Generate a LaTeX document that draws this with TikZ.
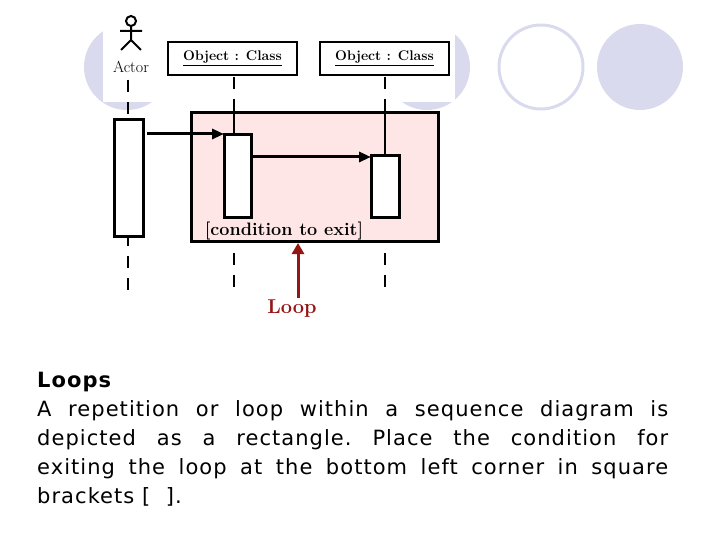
\documentclass[tikz,border=0pt]{standalone}
\usepackage{fontspec}
\newfontfamily\bodyfont[LetterSpace=5]{DejaVu Sans}
\usetikzlibrary{arrows.meta}
\definecolor{lav}{RGB}{218,218,238}
\definecolor{loopfill}{RGB}{255,230,230}
\definecolor{loopred}{RGB}{150,20,20}
\tikzset{every path/.style={black},
  life/.style={line width=1.6pt,dash pattern=on 12pt off 10pt},
  act/.style={draw,line width=3pt,fill=white},
  obj/.style={draw,line width=2.5pt,fill=white,minimum width=129pt,minimum height=33pt,font=\fontsize{14}{15}\selectfont\bfseries},
  msg/.style={line width=3pt,-{Triangle[length=12pt,width=10pt]}}}
\begin{document}
\begin{tikzpicture}[x=1pt,y=-1pt]
  \useasboundingbox (0,0) rectangle (720,540);
  % background circles
  \fill[lav] (127,67) circle (43);
  \fill[lav] (427,67) circle (43);
  \draw[lav,line width=3pt] (541,67) circle (42);
  \fill[lav] (640,67) circle (43);
  \fill[white] (103,0) rectangle (455,102);
  % actor
  \draw[line width=2pt] (131,21) circle (5);
  \draw[line width=2pt] (131,26) -- (131,40) (120,31) -- (142,31) (121,50) -- (131,40) -- (141,50);
  \node[font=\fontsize{16}{17}\selectfont] (actor) at (131,67) {Actor};
  \node[obj] (o1) at (232.5,58.5) {\underline{Object : Class}};
  \node[obj] (o2) at (384.5,58.5) {\underline{Object : Class}};
  % lifelines
  \draw[life] (128,80) -- (128,290);
  \draw[life] (234,77) -- (234,290);
  \draw[life] (385,77) -- (385,290);
  % loop frame
  \draw[line width=3pt,fill=loopfill] (191,113) rectangle (438,241);
  \draw[line width=1.6pt] (234,113) -- (234,135) (385,113) -- (385,156);
  \node[font=\fontsize{18}{19}\selectfont\bfseries] (cond) at (284,231) {[condition to exit]};
  % activations
  \draw[act] (114,120) rectangle (143,236);
  \draw[act] (224,135) rectangle (251,218);
  \draw[act] (371,156) rectangle (399,218);
  \draw[msg] (147,134) -- (224,134);
  \draw[msg] (251,157) -- (371,157);
  % loop label
  \node[font=\fontsize{20}{21}\selectfont\bfseries,text=loopred] (loop) at (292,309) {Loop};
  \draw[loopred,line width=3pt,-{Triangle[length=11pt,width=12pt]}] (298,298) -- (298,243);
  % text
  \node[anchor=north west,font=\bodyfont\frenchspacing\fontsize{21}{29}\selectfont,text width=631pt,align=justify,inner sep=0pt] (body) at (37,372)
    {\textbf{Loops}\\A repetition or loop within a sequence diagram is\linebreak depicted as a rectangle. Place the condition for\linebreak exiting the loop at the bottom left corner in square\linebreak brackets [ \ ].};
\end{tikzpicture}
\end{document}
